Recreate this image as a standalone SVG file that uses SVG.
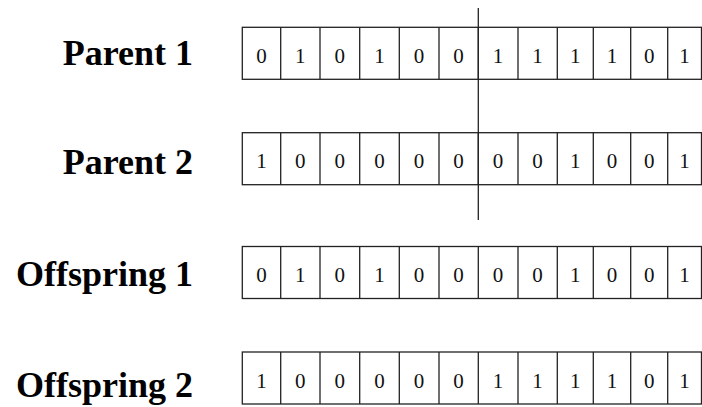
<svg xmlns="http://www.w3.org/2000/svg" width="702" height="407" viewBox="0 0 702 407">
<style>
.lbl{font-family:"Liberation Serif","Times New Roman",serif;font-weight:bold;font-size:36px;fill:#000;text-anchor:end}
.d{font-family:"Liberation Serif","Times New Roman",serif;font-size:21px;fill:#111;text-anchor:middle}
.box{fill:#fff;stroke:#222;stroke-width:1.3}
.div{stroke:#222;stroke-width:1.3}
</style>
<defs>
<g id="grid">
<rect class="box" x="242.3" y="0" width="459.2" height="52"/>
<path class="div" d="M280.7 0V52M320 0V52M359.7 0V52M399.3 0V52M439 0V52M478.3 0V52M518 0V52M557.3 0V52M593.3 0V52M630.7 0V52M667.7 0V52"/>
</g>
</defs>
<rect width="702" height="407" fill="#fff"/>
<g id="parent1">
<text class="lbl" x="193" y="65">Parent 1</text>
<use href="#grid" y="27.3"/>
<g class="d">
<text x="261.5" y="62.7">0</text><text x="300.3" y="62.7">1</text><text x="339.8" y="62.7">0</text><text x="379.5" y="62.7">1</text><text x="419.1" y="62.7">0</text><text x="458.6" y="62.7">0</text><text x="498.1" y="62.7">1</text><text x="537.6" y="62.7">1</text><text x="575.3" y="62.7">1</text><text x="612" y="62.7">1</text><text x="649.2" y="62.7">0</text><text x="684.6" y="62.7">1</text>
</g>
</g>
<g id="parent2">
<text class="lbl" x="193" y="174">Parent 2</text>
<use href="#grid" y="132.7"/>
<g class="d">
<text x="261.5" y="168">1</text><text x="300.3" y="168">0</text><text x="339.8" y="168">0</text><text x="379.5" y="168">0</text><text x="419.1" y="168">0</text><text x="458.6" y="168">0</text><text x="498.1" y="168">0</text><text x="537.6" y="168">0</text><text x="575.3" y="168">1</text><text x="612" y="168">0</text><text x="649.2" y="168">0</text><text x="684.6" y="168">1</text>
</g>
</g>
<g id="offspring1">
<text class="lbl" x="193" y="286">Offspring 1</text>
<use href="#grid" y="246.5"/>
<g class="d">
<text x="261.5" y="282">0</text><text x="300.3" y="282">1</text><text x="339.8" y="282">0</text><text x="379.5" y="282">1</text><text x="419.1" y="282">0</text><text x="458.6" y="282">0</text><text x="498.1" y="282">0</text><text x="537.6" y="282">0</text><text x="575.3" y="282">1</text><text x="612" y="282">0</text><text x="649.2" y="282">0</text><text x="684.6" y="282">1</text>
</g>
</g>
<g id="offspring2">
<text class="lbl" x="193" y="397">Offspring 2</text>
<use href="#grid" y="352"/>
<g class="d">
<text x="261.5" y="388">1</text><text x="300.3" y="388">0</text><text x="339.8" y="388">0</text><text x="379.5" y="388">0</text><text x="419.1" y="388">0</text><text x="458.6" y="388">0</text><text x="498.1" y="388">1</text><text x="537.6" y="388">1</text><text x="575.3" y="388">1</text><text x="612" y="388">1</text><text x="649.2" y="388">0</text><text x="684.6" y="388">1</text>
</g>
</g>
<g id="connectors">
<line x1="478.3" y1="8" x2="478.3" y2="220" stroke="#222" stroke-width="1.3"/>
</g>
</svg>
